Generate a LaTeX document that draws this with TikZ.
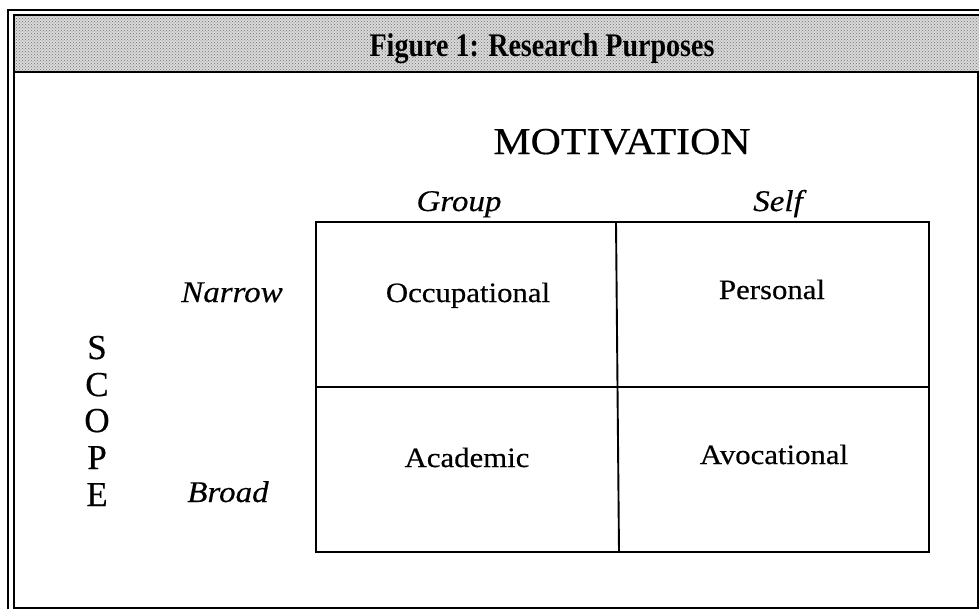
\documentclass[tikz,border=0pt]{standalone}
\usepackage{fontspec}
\setmainfont{Liberation Serif}
\newfontfamily\cellfont{Liberation Serif}[FakeStretch=1.1,FakeBold=0.4]
\newfontfamily\scopefont{Liberation Serif}[FakeStretch=1.0,FakeBold=0.4]
\newfontfamily\titlefont{Liberation Serif}[FakeStretch=0.85]
\usetikzlibrary{patterns}
\tikzset{
  x=1pt, y=-1pt,
  frameouter/.style={line width=1.4pt},
  frameinner/.style={line width=2.4pt},
  cellline/.style={line width=1.9pt},
  celltext/.style={font=\cellfont\fontsize{28}{30}\selectfont, anchor=base, inner sep=0pt},
  axistext/.style={font=\cellfont\itshape\fontsize{30}{32}\selectfont, anchor=base, inner sep=0pt},
  scopeletter/.style={font=\scopefont\fontsize{35}{36}\selectfont, anchor=base, inner sep=0pt},
  titletext/.style={font=\titlefont\bfseries\fontsize{33}{35}\selectfont, anchor=base, inner sep=0pt},
  headtext/.style={font=\cellfont\fontsize{38}{40}\selectfont, anchor=base, inner sep=0pt}
}
\begin{document}
\begin{tikzpicture}
\useasboundingbox (0,0) rectangle (979,611);
\fill[white] (0,0) rectangle (979,611);
% header band
\fill[gray!30] (14,15) rectangle (979,72);
\fill[pattern=crosshatch dots, pattern color=black!55] (14,15) rectangle (979,72);
% frame
\draw[frameouter] (8,609) -- (8,10) -- (979,10);
\draw[frameinner] (979,15) -- (14,15) -- (14,608) -- (979,608);
\draw[frameinner] (14,72) -- (979,72);
\draw[frameouter] (978,72) -- (978,608);
% title
\node[titletext] (title) at (542,56) {Figure 1: Research Purposes};
% motivation
\node[headtext] (motiv) at (622,154) {MOTIVATION};
\node[axistext] (group) at (459,211) {Group};
\node[axistext] (self) at (778,211) {Self};
% grid
\coordinate (tl) at (316,222);
\coordinate (br) at (929,552);
\coordinate (tm) at (616,222);
\coordinate (bm) at (619,552);
\coordinate (ml) at (316,387);
\coordinate (mr) at (929,387);
\draw[cellline] (tl) rectangle (br);
\draw[cellline] (tm) -- (bm);
\draw[cellline] (ml) -- (mr);
% cells
\node[celltext] (occ) at (468,302) {Occupational};
\node[celltext] (per) at (772,299) {Personal};
\node[celltext] (aca) at (467,467) {Academic};
\node[celltext] (avo) at (774,464) {Avocational};
% scope
\node[axistext] (narrow) at (232,302) {Narrow};
\node[axistext] (broad) at (228,502) {Broad};
\node[scopeletter] (s1) at (97,359) {S};
\node[scopeletter] (s2) at (97,396) {C};
\node[scopeletter] (s3) at (97,432) {O};
\node[scopeletter] (s4) at (97,469) {P};
\node[scopeletter] (s5) at (97,506) {E};
\end{tikzpicture}
\end{document}
